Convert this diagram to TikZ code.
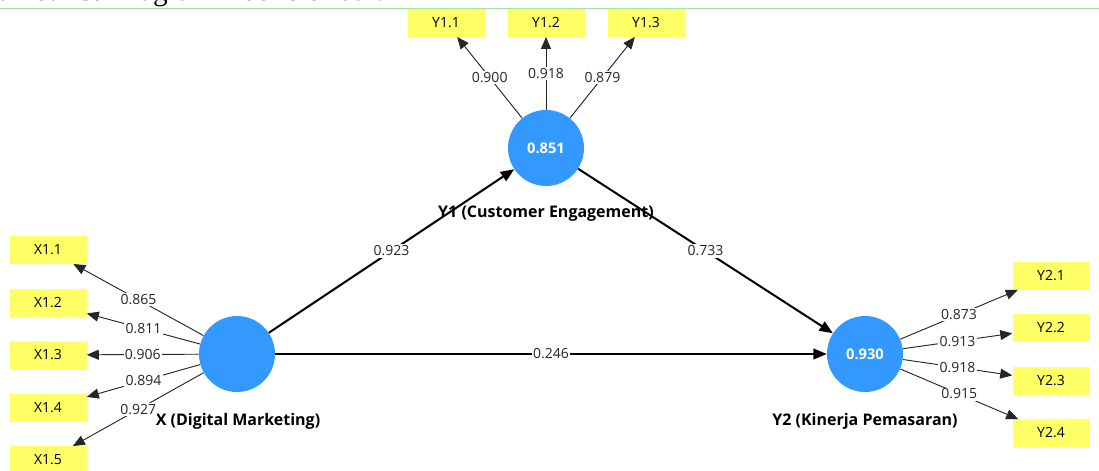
\documentclass[tikz,border=0pt]{standalone}
\usepackage{fontspec}
\setmainfont{Open Sans}
\newfontfamily\captionfont{Liberation Serif}
\usetikzlibrary{arrows.meta}

\definecolor{latblue}{RGB}{51,153,255}
\definecolor{boxyellow}{RGB}{255,255,102}
\definecolor{rulegreen}{RGB}{160,228,170}

\begin{document}
\begin{tikzpicture}[x=0.75pt,y=-0.75pt,
  indicator/.style={fill=boxyellow,minimum width=57.75pt,minimum height=20.5pt,inner sep=0pt,font=\fontsize{10.5}{12}\selectfont},
  latent/.style={circle,fill=latblue,minimum size=57pt,inner sep=0pt,text=white,font=\bfseries\fontsize{11}{13}\selectfont},
  latentname/.style={font=\bfseries\fontsize{12}{14}\selectfont,inner sep=1pt},
  loading/.style={-{Triangle[length=9pt,width=7.5pt]},line width=0.7pt,black!85},
  structural/.style={-{Triangle[length=10pt,width=8pt]},line width=1.5pt},
  coef/.style={midway,fill=white,inner sep=1pt,text=black!85,font=\fontsize{10.5}{12}\selectfont}]
  \clip (0,0) rectangle (1099,471);

  % Caption, cut off at the top edge
  \node[anchor=base west,inner sep=0pt,font=\captionfont\fontsize{22}{24}\selectfont] (caption) at (-23,0.5) {Gambar 3. Diagram Koefisien Jalur};
  \draw[rulegreen,line width=0.75pt] (0,8) -- (1099,8);

  % Latent variables
  \node[latent] (Y1) at (546,148) {0.851};
  \node[latent] (X) at (237,354) {};
  \node[latent] (Y2) at (865,354) {0.930};

  \node[latentname] (Y1name) at (546,214) {Y1 (Customer Engagement)};
  \node[latentname] (Xname) at (238,421) {X (Digital Marketing)};
  \node[latentname] (Y2name) at (865,421) {Y2 (Kinerja Pemasaran)};

  % Indicators
  \foreach \i/\x in {1/446,2/546,3/646}
    \node[indicator] (Y1\i) at (\x,23) {Y1.\i};
  \foreach \i/\y in {1/250,2/303,3/355,4/408,5/460}
    \node[indicator] (X1\i) at (48,\y) {X1.\i};
  \foreach \i/\y in {1/276,2/328,3/381,4/433}
    \node[indicator] (Y2\i) at (1051,\y) {Y2.\i};

  % Outer loadings
  \foreach \i/\v in {1/0.900,2/0.918,3/0.879}
    \draw[loading] (Y1) -- (Y1\i) node[coef] {\v};
  \foreach \i/\v in {1/0.865,2/0.811,3/0.906,4/0.894,5/0.927}
    \draw[loading] (X) -- (X1\i) node[coef] {\v};
  \foreach \i/\v in {1/0.873,2/0.913,3/0.918,4/0.915}
    \draw[loading] (Y2) -- (Y2\i) node[coef] {\v};

  % Path coefficients
  \draw[structural] (X) -- (Y1) node[coef] {0.923};
  \draw[structural] (Y1) -- (Y2) node[coef] {0.733};
  \draw[structural] (X) -- (Y2) node[coef] {0.246};
\end{tikzpicture}
\end{document}
